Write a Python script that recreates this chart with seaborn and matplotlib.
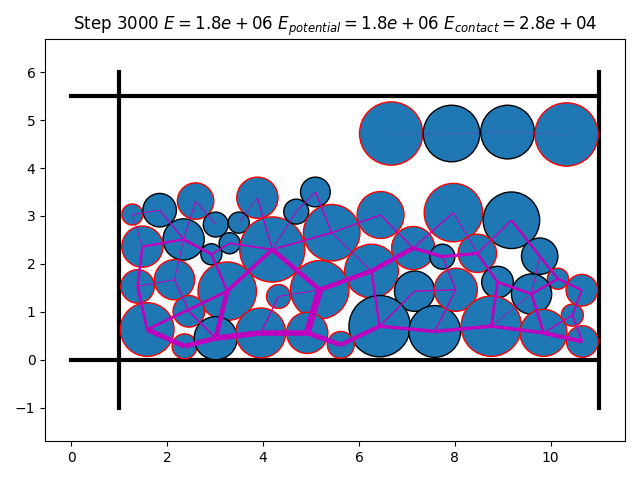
import numpy as np
import pandas as pd
import matplotlib
matplotlib.use("Agg")
import matplotlib.pyplot as plt
from matplotlib.patches import Circle
import seaborn as sns

# particle centres, radii and edge colour (red = touching something that pushes hard)
part_x = [1.27, 1.84, 2.59, 3.88, 3.01, 3.49, 2.34, 3.30, 2.92, 1.48,
          4.19, 1.38, 2.15, 3.25, 2.45, 1.58, 2.36, 3.01, 3.95, 4.32,
          4.69, 5.09, 5.43, 6.45, 7.97, 7.13, 6.26, 5.18, 7.16, 6.43,
          7.58, 4.92, 5.62, 7.74, 9.18, 8.47, 9.77, 10.15, 10.65, 8.89,
          9.60, 8.02, 10.45, 8.76, 9.85, 10.66, 6.67, 7.93, 9.10, 10.33]
part_y = [3.03, 3.12, 3.31, 3.38, 2.82, 2.86, 2.51, 2.43, 2.20, 2.36,
          2.30, 1.53, 1.67, 1.43, 1.01, 0.63, 0.28, 0.45, 0.56, 1.32,
          3.09, 3.50, 2.65, 3.02, 3.07, 2.33, 1.85, 1.46, 1.43, 0.70,
          0.59, 0.56, 0.31, 2.15, 2.91, 2.22, 2.16, 1.69, 1.45, 1.62,
          1.37, 1.46, 0.93, 0.70, 0.56, 0.38, 4.72, 4.72, 4.75, 4.70]
part_r = [0.22, 0.35, 0.38, 0.43, 0.26, 0.22, 0.43, 0.22, 0.22, 0.43,
          0.68, 0.35, 0.42, 0.61, 0.33, 0.56, 0.26, 0.45, 0.52, 0.25,
          0.26, 0.31, 0.59, 0.49, 0.61, 0.45, 0.56, 0.61, 0.42, 0.64,
          0.54, 0.43, 0.28, 0.26, 0.59, 0.40, 0.38, 0.22, 0.33, 0.33,
          0.42, 0.45, 0.23, 0.63, 0.49, 0.33, 0.66, 0.59, 0.56, 0.66]
part_edge = ["red", "black", "red", "red", "black", "black", "black", "black", "black", "red",
             "red", "red", "red", "red", "red", "red", "red", "black", "red", "red",
             "black", "black", "red", "red", "red", "red", "red", "red", "black", "black",
             "black", "red", "red", "black", "black", "red", "black", "red", "red", "black",
             "black", "red", "red", "red", "red", "red", "red", "black", "black", "red"]

# contacts between particles and their force (drawn as line width)
contact_i = [15, 16, 17, 18, 31, 32, 29, 30, 43, 44,
             13, 10, 15, 10, 27, 27, 26, 25, 33,
             6, 9, 8, 7, 8, 9, 11, 26,
             34, 36, 37, 38, 42, 37, 40, 40, 39, 39,
             36, 44, 34, 24, 28, 28, 41, 23, 23, 24, 33,
             22, 10, 3, 10, 20, 21, 27, 19,
             0, 0, 1, 2, 6, 2, 11, 12, 14, 3, 40,
             46, 47, 48]
contact_j = [16, 17, 18, 31, 32, 29, 30, 43, 44, 45,
             17, 13, 13, 27, 31, 26, 25, 33, 35,
             8, 6, 7, 10, 13, 11, 15, 29,
             36, 37, 38, 42, 45, 40, 39, 44, 43, 35,
             40, 42, 35, 35, 41, 29, 30, 25, 22, 25, 41,
             26, 22, 10, 20, 21, 22, 19, 18,
             1, 9, 6, 6, 12, 4, 12, 14, 17, 5, 43,
             47, 48, 49]
contact_force = [3.5, 3.5, 4.0, 4.0, 3.5, 3.0, 2.5, 2.5, 2.5, 3.0,
                 3.3, 2.7, 2.0, 3.3, 5.0, 3.3, 3.3, 2.5, 2.3,
                 2.0, 1.7, 1.3, 1.3, 1.7, 1.7, 2.0, 1.7,
                 1.7, 1.7, 1.7, 1.3, 1.3, 1.7, 2.0, 2.0, 2.0, 1.7,
                 0.7, 1.0, 1.0, 0.7, 1.0, 1.0, 1.0, 1.0, 1.0, 1.0, 1.0,
                 0.7, 1.3, 1.0, 0.7, 0.7, 1.0, 0.7, 1.0,
                 0.7, 0.5, 1.0, 0.7, 0.7, 0.7, 0.7, 1.0, 1.3, 0.5, 0.5,
                 0.15, 0.15, 0.15]

# box walls
wall_x = [0, 11, 0, 11, 1, 1, 11, 11]
wall_y = [0, 0, 5.5, 5.5, -1, 6, -1, 6]
wall_id = [0, 0, 1, 1, 2, 2, 3, 3]

fig, ax = plt.subplots(figsize=(6.4, 4.8), dpi=100)

walls = pd.DataFrame({"x": wall_x, "y": wall_y, "wall": wall_id})
sns.lineplot(data=walls, x="x", y="y", units="wall", estimator=None,
             sort=False, color="k", lw=3, ax=ax, legend=False)

for x, y, r, ec in zip(part_x, part_y, part_r, part_edge):
    ax.add_patch(Circle((x, y), r, facecolor="C0", edgecolor=ec, lw=1, zorder=2))

# force chains, line width goes with contact force
for i, j, f in zip(contact_i, contact_j, contact_force):
    ax.plot([part_x[i], part_x[j]], [part_y[i], part_y[j]],
            color="m", lw=f, solid_capstyle="butt", zorder=3)

ax.set_xlabel("")
ax.set_ylabel("")
ax.set_aspect("equal", adjustable="datalim")
ax.set_title(r"Step 3000 $E=1.8e+06$ $E_{potential}=1.8e+06$ $E_{contact}=2.8e+04$")
fig.tight_layout()
fig.savefig("out.png", dpi=100)
